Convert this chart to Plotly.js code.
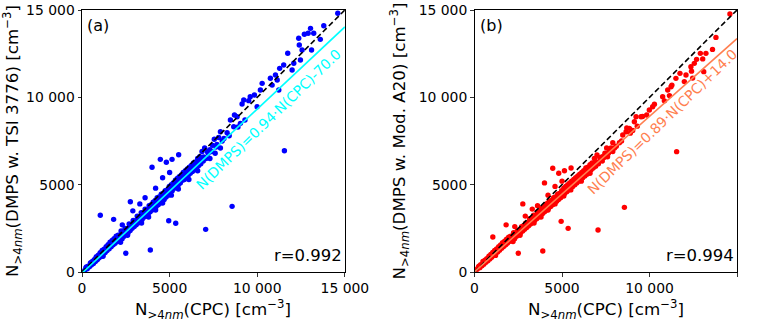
<!DOCTYPE html>
<html>
<head>
<meta charset="utf-8">
<script src="https://cdn.plot.ly/plotly-3.0.1.min.js"></script>
<style>
  html, body { margin: 0; padding: 0; background: #fff; }
  #chart { width: 758px; height: 321px; }
</style>
</head>
<body>
<div id="chart"></div>
<script>
// N>4nm from the CPC, shared by both panels
const cpc = [
  150, 220, 300, 350, 420, 480, 530, 600, 650, 700, 760, 820, 870, 930, 980, 1040, 1100, 1150, 1210, 1260,
  1320, 1380, 1430, 1490, 1550, 1600, 1660, 1720, 1780, 1830, 1890, 1950, 2000,
  2060, 2120, 2180, 2230, 2290, 2350, 2400, 2460, 2520, 2580, 2630, 2690, 2750, 2800, 2860, 2920, 2980, 3030,
  3090, 3150, 3200, 3260, 3320, 3380, 3430, 3490, 3550, 3600, 3660, 3720, 3780, 3830, 3890, 3950, 4000, 4060,
  4120, 4180, 4230, 4290, 4350, 4400, 4460, 4520, 4580, 4630, 4690, 4750, 4800, 4860, 4920, 4980,
  5040, 5100, 5150, 5210, 5270, 5330, 5380, 5440, 5500, 5550, 5610, 5670, 5730, 5780, 5840, 5900, 5950, 6010,
  6070, 6130, 6180, 6240, 6300, 6360, 6420, 6480, 6540, 6600, 6660, 6720, 6780, 6850, 6920, 7000, 7080, 7160,
  400, 900, 1300, 1700, 2100, 2500, 2700, 2900, 3100, 3300, 3500, 3700, 3900, 4100, 4300, 4500, 4700, 4900,
  5200, 5400, 5600, 5800, 6000, 6200, 6400, 6700,
  250, 550, 800, 1000, 1250, 1500, 1750, 1950, 2150, 2350, 2550, 2750, 2950, 3150, 3350, 3550, 3750, 3950,
  4150, 4350, 4550, 4750, 4950, 5150, 5350, 5550, 5750, 5950, 6150, 6350, 6550, 6750, 6950,
  1200, 2200, 2600, 3400, 3800, 4200, 4600, 5100, 5500, 6100, 6600, 7300, 7600, 7900,
  1045, 1805, 2758, 3997, 4470, 4813, 5138, 5516, 2300, 2900, 3300, 3600, 4200, 4600, 5000,
  11550, 8565, 7058, 3900, 2500, 4950, 5350,
  7200, 7300, 7400, 7450, 7550, 7650, 7700, 7800, 7900, 8000, 8100, 8280, 8400, 8470, 8660, 8700, 8850, 8900,
  9040, 9135, 9230, 9300, 9515, 9600, 9840, 9990, 10180, 10280, 10750, 10850, 11040, 11140, 11230, 11280,
  11510, 11740, 11990, 12085, 12367, 12400, 12465, 12560, 12690, 12905, 13040, 13100, 13225, 13600, 13797, 14596
];

// N>4nm from the DMPS with the TSI 3776 CPC, panel (a)
const dmpsTsi = [
  90, 230, 180, 330, 300, 520, 400, 610, 480, 700, 600, 870, 700, 960, 820, 1100, 900, 1230, 1020, 1300,
  1120, 1450, 1230, 1560, 1330, 1700, 1450, 1800, 1560, 1900, 1650, 2050, 1760,
  2100, 1780, 2050, 2350, 1900, 2300, 2050, 2500, 2200, 2450, 2250, 2750, 2380, 2700, 2500, 2950, 2600, 2900,
  2700, 3200, 2800, 3150, 2900, 3400, 3000, 3350, 3150, 3600, 3200, 3550, 3350, 3800, 3450, 3850, 3550, 4000,
  3650, 4100, 3750, 4250, 3850, 4300, 3950, 4450, 4100, 4500, 4150, 4650, 4300, 4700, 4400, 4900,
  4550, 5000, 4650, 5100, 4800, 5250, 4900, 5350, 5000, 5450, 5100, 5550, 5250, 5700, 5300, 5800, 5450, 5900,
  5550, 6000, 5650, 6100, 5750, 6250, 5850, 6300, 5950, 6500, 6100, 6600, 6200, 6900, 6350, 7100, 6500, 6900,
  310, 780, 1150, 1530, 1900, 2280, 2470, 2650, 2850, 3030, 3220, 3410, 3600, 3780, 3970, 4160, 4350, 4540,
  4820, 5010, 5190, 5380, 5570, 5760, 5950, 6230,
  290, 560, 800, 990, 1220, 1460, 1700, 1890, 2080, 2250, 2450, 2640, 2820, 3020, 3200, 3390, 3580, 3760,
  3960, 4150, 4330, 4520, 4710, 4900, 5090, 5270, 5460, 5650, 5840, 6030, 6210, 6400, 6590,
  900, 1700, 2100, 2800, 3150, 3550, 3950, 4400, 4750, 5300, 5800, 6500, 6800, 7100,
  3245, 3015, 4025, 5994, 6450, 6280, 6450, 6716, 2700, 3500, 3900, 4250, 4800, 5400, 5700,
  6945, 3760, 2443, 1260, 1070, 2937, 2787,
  6800, 7000, 6900, 7250, 7600, 7150, 7300, 7700, 8030, 7500, 7650, 7975, 7800, 8700, 8320, 8990, 8890, 8300,
  8510, 9620, 9850, 8700, 9810, 10040, 10130, 9460, 10420, 10800, 11090, 10700, 11280, 10990, 10420, 11660,
  11850, 12520, 11565, 11950, 13380, 12996, 12137, 12710, 13610, 13665, 13950, 12710, 13665, 13320, 14101, 14810
];

// N>4nm from the DMPS with the modified A20 CPC, panel (b)
const dmpsA20 = [
  160, 280, 250, 420, 360, 600, 450, 680, 560, 760, 650, 900, 750, 1000, 850, 1120, 960, 1230, 1050, 1320,
  1150, 1450, 1250, 1550, 1360, 1680, 1460, 1770, 1560, 1880, 1660, 1990, 1760,
  2050, 1780, 1990, 2250, 1900, 2230, 2050, 2400, 2150, 2400, 2250, 2600, 2350, 2650, 2450, 2800, 2550, 2800,
  2650, 3050, 2750, 3050, 2850, 3250, 2950, 3250, 3050, 3450, 3150, 3450, 3250, 3650, 3350, 3700, 3450, 3850,
  3550, 3950, 3650, 4050, 3750, 4100, 3850, 4250, 3950, 4300, 4050, 4450, 4150, 4500, 4250, 4650,
  4400, 4800, 4500, 4900, 4600, 5000, 4700, 5100, 4800, 5200, 4900, 5300, 5000, 5400, 5100, 5500, 5200, 5600,
  5300, 5700, 5400, 5800, 5500, 5950, 5600, 6000, 5700, 6150, 5850, 6250, 5950, 6500, 6050, 6700, 6200, 6550,
  370, 815, 1170, 1530, 1880, 2240, 2420, 2600, 2770, 2950, 3130, 3310, 3490, 3660, 3840, 4020, 4200, 4380,
  4640, 4820, 5000, 5180, 5350, 5530, 5710, 5980,
  330, 600, 820, 1000, 1220, 1450, 1670, 1850, 2030, 2200, 2380, 2560, 2740, 2910, 3090, 3270, 3450, 3620,
  3800, 3980, 4160, 4340, 4520, 4690, 4870, 5050, 5230, 5400, 5580, 5760, 5940, 6120, 6300,
  950, 1750, 2100, 2800, 3150, 3550, 3900, 4350, 4700, 5200, 5650, 6350, 6600, 6900,
  2000, 2700, 3900, 5100, 5938, 5650, 5800, 5950, 2600, 3200, 3600, 3800, 4400, 4900, 5200,
  6890, 3700, 2405, 1200, 1070, 2900, 2500,
  6450, 6600, 6550, 6800, 7100, 6800, 6900, 7100, 7400, 7100, 7200, 7400, 7500, 7840, 8030, 8250, 8225, 7950,
  8100, 8605, 8890, 8350, 8890, 8900, 8990, 9275, 9460, 9600, 10040, 9800, 10420, 10100, 10610, 10700,
  11087, 11373, 10900, 11278, 11755, 11500, 11100, 11945, 12174, 12517, 12200, 11470, 12517, 12745, 13430, 14771
];

const axisEnds = [0, 15000];
const tickVals = [0, 5000, 10000, 15000];
const tickText = ['0', '5000', '10 000', '15 000'];
const fitA = { slope: 0.94, intercept: -70.0, r: 0.992 };
const fitB = { slope: 0.89, intercept: 14.0, r: 0.994 };

const FONT = 'DejaVu Sans, sans-serif';
const xTitle = 'N<sub>&gt;4<i>nm</i></sub>(CPC) [cm<sup>\u22123</sup>]';

function axisStyle(domain, title, anchor, standoff) {
  return {
    domain, anchor,
    range: axisEnds, autorange: false,
    tickvals: tickVals, ticktext: tickText,
    ticks: 'outside', ticklen: 3.5, tickwidth: 0.8, tickcolor: '#000',
    tickfont: { size: 13.9, color: '#000' },
    showline: true, mirror: true, linecolor: '#000', linewidth: 1,
    showgrid: false, zeroline: false,
    title: { text: title, font: { size: 16.7, color: '#000' }, standoff },
  };
}

function panel(xa, ya, yvals, color, fit, fitColor) {
  return [
    {
      type: 'scatter', mode: 'markers', x: cpc, y: yvals, xaxis: xa, yaxis: ya,
      marker: { color, size: 5.4, line: { width: 0 } }, hoverinfo: 'skip',
    },
    {
      type: 'scatter', mode: 'lines', x: axisEnds, y: axisEnds, xaxis: xa, yaxis: ya,
      line: { color: '#000', width: 1.6, dash: '5.5px,3px' }, hoverinfo: 'skip',
    },
    {
      type: 'scatter', mode: 'lines', x: axisEnds,
      y: axisEnds.map(v => fit.slope * v + fit.intercept), xaxis: xa, yaxis: ya,
      line: { color: fitColor, width: 1.6 }, hoverinfo: 'skip',
    },
  ];
}

const data = [
  ...panel('x', 'y', dmpsTsi, '#0000ff', fitA, '#00ffff'),
  ...panel('x2', 'y2', dmpsA20, '#ff0000', fitB, '#ff7f50'),
];

function fitLabel(fit) {
  const sign = fit.intercept < 0 ? '-' : '+';
  return 'N(DMPS)=' + fit.slope.toFixed(2) + '\u00b7N(CPC)' + sign + Math.abs(fit.intercept).toFixed(1);
}

// x titles placed as annotations so they sit lower than plotly's default spot
function xTitleNote(xa, ya) {
  return {
    xref: xa + ' domain', yref: ya + ' domain', x: 0.5, y: -0.142,
    xanchor: 'center', yanchor: 'middle', text: xTitle, showarrow: false,
    font: { size: 16.7, color: '#000' },
  };
}

// plot area spans x 82..737 px and y 10..272 px
const layout = {
  width: 758, height: 321,
  margin: { l: 82, r: 21, t: 10, b: 49 },
  paper_bgcolor: '#fff', plot_bgcolor: '#fff',
  font: { family: FONT, color: '#000' },
  showlegend: false,
  xaxis: axisStyle([0, 0.4013], '', 'y'),
  yaxis: axisStyle([0, 1], 'N<sub>&gt;4<i>nm</i></sub>(DMPS w. TSI 3776) [cm<sup>\u22123</sup>]', 'x', 9),
  xaxis2: axisStyle([0.5993, 1], '', 'y2'),
  yaxis2: axisStyle([0, 1], 'N<sub>&gt;4<i>nm</i></sub>(DMPS w. Mod. A20) [cm<sup>\u22123</sup>]', 'x2', 8),
  annotations: [
    xTitleNote('x', 'y'),
    xTitleNote('x2', 'y2'),
    { xref: 'x domain', yref: 'y domain', x: 0.012, y: 0.985, xanchor: 'left', yanchor: 'top',
      text: '(a)', showarrow: false, font: { size: 16 } },
    { xref: 'x2 domain', yref: 'y2 domain', x: 0.012, y: 0.985, xanchor: 'left', yanchor: 'top',
      text: '(b)', showarrow: false, font: { size: 16 } },
    { xref: 'x domain', yref: 'y domain', x: 0.995, y: 0.02, xanchor: 'right', yanchor: 'bottom',
      text: 'r=' + fitA.r.toFixed(3), showarrow: false, font: { size: 16.5 } },
    { xref: 'x2 domain', yref: 'y2 domain', x: 0.995, y: 0.02, xanchor: 'right', yanchor: 'bottom',
      text: 'r=' + fitB.r.toFixed(3), showarrow: false, font: { size: 16.5 } },
    { xref: 'x', yref: 'y', x: 10655, y: 8760, text: fitLabel(fitA), textangle: -44,
      showarrow: false, font: { size: 14, color: '#00ffff' } },
    { xref: 'x2', yref: 'y2', x: 10716, y: 8570, text: fitLabel(fitB), textangle: -44,
      showarrow: false, font: { size: 14, color: '#ff7f50' } },
  ],
};

Plotly.newPlot('chart', data, layout, { displayModeBar: false, staticPlot: true });
</script>
</body>
</html>
